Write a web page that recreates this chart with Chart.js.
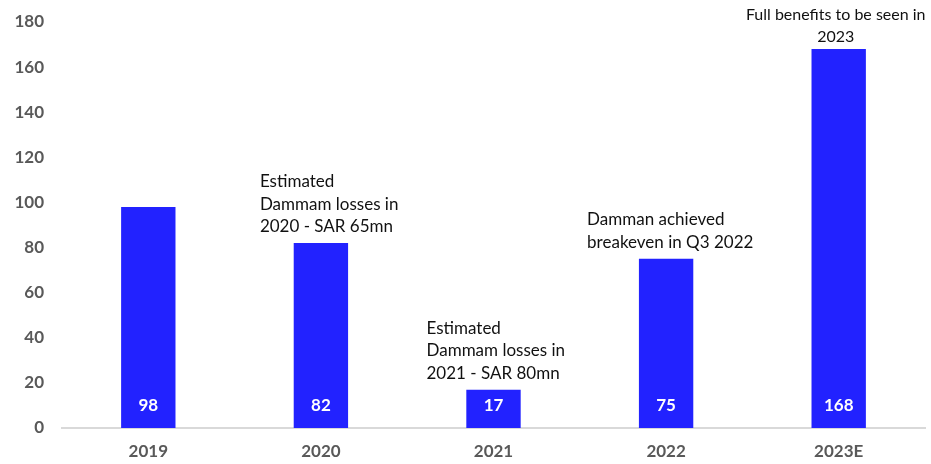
<!DOCTYPE html>
<html>
<head>
<meta charset="utf-8">
<script src="https://cdn.jsdelivr.net/npm/chart.js@4"></script>
<style>
  html, body { margin: 0; padding: 0; background: #fff; }
  #wrap { width: 931px; height: 464px; position: relative; }
</style>
</head>
<body>
<div id="wrap"><canvas id="chart"></canvas></div>
<script>
// ── data
const years = ["2019", "2020", "2021", "2022", "2023E"];
const values = [98, 82, 17, 75, 168];
const yTicks = [0, 20, 40, 60, 80, 100, 120, 140, 160, 180];

// notes above bars: [bar index, lines, alignment]
const noteBars = [1, 2, 3, 4];
const noteLines = [
  ["Estimated", "Dammam losses in", "2020 - SAR 65mn"],
  ["Estimated", "Dammam losses in", "2021 - SAR 80mn"],
  ["Damman achieved", "breakeven in Q3 2022"],
  ["Full benefits to be seen in", "2023"],
];
const noteAlign = ["left", "left", "left", "center"];
const noteShift = [-61, -67, -79, -3];
const noteSize = [17, 17, 17, 16];
const noteGap = [11, 11, 11, 7];

const FONT = "Lato, 'Liberation Sans', sans-serif";
const BAR = "#2222FF";

// value labels inside the bars + text notes above them
const labelPlugin = {
  id: "labels",
  afterDatasetsDraw(chart) {
    const ctx = chart.ctx;
    const meta = chart.getDatasetMeta(0);
    const base = chart.scales.y.getPixelForValue(0);
    ctx.save();
    ctx.font = "bold 17px " + FONT;
    ctx.fillStyle = "#ffffff";
    ctx.textAlign = "center";
    ctx.textBaseline = "middle";
    meta.data.forEach((bar, i) => {
      ctx.fillText(String(values[i]), bar.x, base - 22);
    });

    ctx.fillStyle = "#111111";
    ctx.textBaseline = "alphabetic";
    noteBars.forEach((bi, n) => {
      const bar = meta.data[bi];
      const lines = noteLines[n];
      ctx.font = noteSize[n] + "px " + FONT;
      ctx.textAlign = noteAlign[n];
      const x = bar.x + noteShift[n];
      const lh = 22.5;
      let y = bar.y - noteGap[n] - (lines.length - 1) * lh;
      lines.forEach((t) => {
        ctx.fillText(t, x, y);
        y += lh;
      });
    });
    ctx.restore();
  },
};

new Chart(document.getElementById("chart").getContext("2d"), {
  type: "bar",
  data: {
    labels: years,
    datasets: [
      {
        data: values,
        backgroundColor: BAR,
        borderWidth: 0,
        categoryPercentage: 1,
        barPercentage: 0.315,
      },
    ],
  },
  options: {
    responsive: true,
    maintainAspectRatio: false,
    animation: false,
    layout: { padding: { top: 22, right: 6, left: 0, bottom: 0 } },
    plugins: {
      legend: { display: false },
      tooltip: { enabled: false },
    },
    scales: {
      x: {
        afterFit: (s) => {
          s.height = 36;
        },
        grid: { display: false, drawTicks: false },
        border: { display: true, color: "#d9d9d9", width: 2 },
        ticks: {
          color: "#595959",
          font: { family: FONT, size: 17, weight: "bold" },
          padding: 13,
        },
      },
      y: {
        min: 0,
        max: 180,
        afterBuildTicks: (s) => {
          s.ticks = yTicks.map((v) => ({ value: v }));
        },
        afterFit: (s) => {
          s.width = 62;
          s.paddingTop = 0;
          s.paddingBottom = 0;
        },
        grid: { display: false, drawTicks: false },
        border: { display: false },
        ticks: {
          color: "#595959",
          font: { family: FONT, size: 17, weight: "bold" },
          padding: 18,
        },
      },
    },
  },
  plugins: [labelPlugin],
});
</script>
</body>
</html>
